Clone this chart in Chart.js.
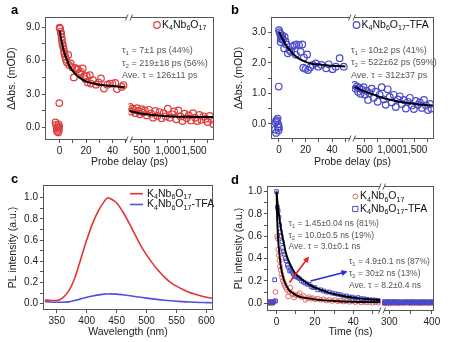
<!DOCTYPE html>
<html>
<head>
<meta charset="utf-8">
<script src="https://cdn.jsdelivr.net/npm/chart.js@4.4.0/dist/chart.umd.min.js"></script>
<style>
  body { margin: 0; background: #fff; }
  #wrap { position: relative; width: 454px; height: 342px; }
  .panel { position: absolute; width: 227px; height: 171px; }
</style>
</head>
<body>
<div id="wrap">
  <div class="panel" style="left:0;top:0"><canvas id="pa" width="227" height="171"></canvas></div>
  <div class="panel" style="left:227px;top:0"><canvas id="pb" width="227" height="171"></canvas></div>
  <div class="panel" style="left:0;top:171px"><canvas id="pc" width="227" height="171"></canvas></div>
  <div class="panel" style="left:227px;top:171px"><canvas id="pd" width="227" height="171"></canvas></div>
</div>
<script>
// ---- panel a : K4Nb6O17 transient absorption (ps, mOD)
const aEarlyT = [-3.1,-2.6,-2.2,-1.9,-1.4,-1.0,-0.8,-0.5,-0.3,-0.2,
  0.0,0.4,0.8,1.2,1.5,1.8,2.2,2.6,3.0,3.4,3.8,4.2,4.8,5.5,6.5,7.2,8.4,9.5,10.8,11.6,
  12.8,13.7,15.0,16.2,17.5,18.5,19.4,20.5,21.3,22.8,23.6,25.2,27.6,29.5,31.2,33.5,36.0,38.0,39.8,42.0,
  43.3,46.8,48.2];
const aEarlyV = [0.48,0.25,-0.1,-0.32,0.05,-0.42,0.3,-0.2,0.1,2.2,
  8.95,8.85,8.6,8.4,8.1,7.8,7.5,7.3,7.1,6.8,6.6,6.35,6.1,5.85,6.5,5.6,5.75,5.4,4.5,5.35,
  5.2,5.25,4.9,5.0,5.3,4.6,4.35,4.6,4.05,4.7,3.95,4.25,3.85,4.05,4.4,3.5,3.85,3.95,3.95,4.0,
  3.45,3.65,3.8];
const aLateT = [280,300,320,350,380,410,440,470,500,530,560,600,640,680,720,760,800,840,880,920,
  960,1000,1040,1080,1120,1160,1200,1240,1280,1320,1360,1400,1440,1480,1520,1560,1600,1640,1680,1720,
  1760,1800,1840,1870];
const aLateV = [1.85,1.45,1.7,1.6,1.3,1.75,1.5,1.2,1.65,1.35,1.55,1.1,1.6,1.25,0.9,1.5,1.05,1.4,0.85,1.3,
  1.0,1.7,0.9,1.2,1.45,0.75,1.55,1.0,0.6,1.25,0.85,1.1,0.65,1.3,0.9,0.6,1.15,0.7,1.0,0.8,
  0.5,1.05,0.7,0.3];
const aFitEarlyT = [0,1,2,3,4,5,6,8,10,12,15,20,25,30,35,40,45,49];
const aFitEarlyV = [8.7,8.05,7.45,6.95,6.55,6.2,5.9,5.4,5.05,4.78,4.48,4.15,3.97,3.86,3.78,3.72,3.67,3.63];
const aFitLateT = [270,350,450,550,700,850,1000,1200,1400,1600,1880];
const aFitLateV = [1.5,1.4,1.3,1.22,1.13,1.07,1.03,0.99,0.97,0.96,0.95];

// ---- panel b : K4Nb6O17-TFA transient absorption
const bEarlyT = [-2.9,-2.6,-2.2,-1.8,-1.4,-1.0,-0.8,-0.5,-0.3,0.0,-0.2,
  0.0,0.5,0.9,1.3,1.6,1.2,2.0,2.5,3.1,3.9,4.3,5.0,5.5,6.7,7.9,9.1,10.3,11.6,12.7,13.2,
  15.1,16.3,17.5,18.3,18.8,20.0,21.2,21.9,23.6,25.5,27.7,29.6,32.0,35.6,37.5,40.4,42.8,45.7,48.8];
const bEarlyV = [-0.19,0.05,-0.3,0.12,0.08,0.17,-0.1,-0.02,-0.22,-0.13,1.22,
  3.07,3.0,2.95,2.88,2.78,2.68,2.82,2.9,2.75,2.47,2.85,2.7,2.6,2.31,2.42,2.36,2.53,2.58,2.26,2.6,
  2.58,2.36,2.6,1.84,2.17,1.8,2.27,1.76,1.85,1.93,1.98,1.87,1.93,1.82,1.95,1.79,1.87,2.15,1.87];
const bLateT = [300,320,345,370,395,420,450,480,510,540,570,600,640,680,720,760,800,840,880,920,
  960,1000,1040,1080,1120,1160,1200,1240,1280,1320,1360,1400,1440,1480,1520,1560,1600,1640,1680,1720,
  1760,1800,1830];
const bLateV = [1.27,1.15,1.22,1.05,1.18,0.98,1.12,1.2,0.95,1.08,0.78,1.0,1.15,0.85,1.05,0.72,0.95,1.2,0.8,0.62,
  1.13,0.88,0.7,0.95,0.55,0.8,0.9,0.65,0.78,0.5,0.72,0.85,0.6,0.48,0.75,0.62,0.7,0.52,0.78,0.6,
  0.45,0.65,0.5];
const bFitEarlyT = [0,2,4,6,8,10,13,16,20,25,30,35,40,45,50];
const bFitEarlyV = [3.02,2.84,2.67,2.53,2.42,2.32,2.2,2.11,2.03,1.97,1.94,1.92,1.9,1.89,1.88];
const bFitLateT = [300,400,500,600,750,900,1050,1200,1400,1600,1850];
const bFitLateV = [1.22,1.13,1.06,1.0,0.91,0.83,0.77,0.72,0.67,0.63,0.6];

// ---- panel c : PL spectra
const cWl = [330,340,350,360,370,380,390,400,410,420,430,435,440,450,460,470,480,490,500,510,
  520,530,540,550,560,570,580,590,600,610];
const cPlain = [0.035,0.03,0.03,0.055,0.12,0.24,0.42,0.6,0.76,0.88,0.97,1.0,0.99,0.95,0.87,0.77,0.66,0.55,0.46,0.38,
  0.31,0.25,0.2,0.165,0.135,0.11,0.09,0.075,0.06,0.05];
const cTfa = [0.02,0.015,0.013,0.013,0.017,0.03,0.045,0.06,0.073,0.083,0.09,0.091,0.092,0.09,0.084,0.077,0.068,0.06,0.052,0.045,
  0.038,0.032,0.027,0.023,0.019,0.016,0.013,0.011,0.01,0.009];

// ---- panel d : PL decay (ns)
const dRedT = [-4.5,-4,-3.5,-3,-2.5,-2,-1.5,-1,-0.6,
  0.3,0.6,0.9,1.2,1.5,1.8,2.1,2.5,2.9,3.3,3.8,4.3,4.8,5.4,6.0,6.6,7.2,7.8,8.5,9.2,
  10,11,12,13,14,15,16,17,18,19,20,21.5,23,24.5,26,27.5,29,30.5,32,33.5,
  35,36.5,38,39.5,41,42.5,44,45.5,47,48.5,50,51.5,53];
const dRedV = [0.01,0.0,0.01,0.0,0.01,0.0,0.01,0.02,0.1,
  0.6,0.58,0.48,0.43,0.38,0.33,0.3,0.26,0.23,0.2,0.18,0.16,0.14,0.12,0.06,0.1,0.14,0.09,0.08,0.05,
  0.07,0.075,0.09,0.055,0.065,0.03,0.045,0.055,0.04,0.045,0.035,0.04,0.03,0.035,0.025,0.03,0.02,0.028,0.018,0.022,
  0.015,0.02,0.012,0.018,0.01,0.015,0.008,0.012,0.006,0.01,0.005,0.008,0.004];
const dBlueT = [-4.5,-4,-3.5,-3,-2.5,-2,-1.5,-1,-0.5,0,
  0.4,0.8,1.2,1.6,2.0,2.4,2.8,3.2,3.6,4.0,4.5,5.0,5.6,6.2,6.8,7.4,8.0,8.7,9.4,10.2,
  11,12,13,14,15,16,17,18,19,20,21.5,23,24.5,26,27.5,29,30.5,32,33.5,35,
  36.5,38,39.5,41,42.5,44,45.5,47,48.5,50,51.5,53];
const dBlueV = [0.01,0.005,0.012,0.008,0.01,0.006,0.012,0.21,0.02,1.0,
  0.86,0.83,0.77,0.7,0.64,0.6,0.55,0.5,0.46,0.44,0.4,0.38,0.34,0.32,0.29,0.3,0.28,0.26,0.24,0.24,
  0.23,0.22,0.2,0.19,0.18,0.17,0.17,0.15,0.14,0.14,0.12,0.12,0.11,0.1,0.1,0.09,0.085,0.08,0.075,0.065,
  0.065,0.055,0.055,0.045,0.05,0.04,0.04,0.035,0.03,0.03,0.028,0.025];
const dRedLateT = [285,288,291,294,297,300,303,306,309,312,315,318,321,324,327,330,333,336,339,342,
  345,348,351,354,357,360,363,366,369,372,375,378,381,384,387,390,393,396,399,402];
const dRedLateV = [0.003,0.008,0.0,0.005,0.01,-0.002,0.006,0.004,0.009,0.001,0.005,0.008,-0.001,0.006,0.003,0.007,0.004,0.0,0.006,0.009,
  0.002,0.005,0.007,0.001,0.004,0.008,0.002,0.006,0.003,0.0,0.007,0.005,0.002,0.008,0.004,0.001,0.006,0.003,0.007,0.002];
const dBlueLateT = [285,286.5,288,289.5,291,292.5,294,295.5,297,298.5,
  300,301.5,303,304.5,306,307.5,309,310.5,312,313.5,315,316.5,318,319.5,321,322.5,324,325.5,327,328.5,
  330,331.5,333,334.5,336,337.5,339,340.5,342,343.5,345,346.5,348,349.5,351,352.5,354,355.5,357,358.5,
  360,361.5,363,364.5,366,367.5,369,370.5,372,373.5,375,376.5,378,379.5,381,382.5,384,385.5,387,388.5,
  390,391.5,393,394.5,396,397.5,399,400.5,402,403.5];
const dBlueLateV = [0.01,0.005,0.012,0.008,0.0,0.01,0.006,0.014,0.004,0.009,
  0.011,0.003,0.008,0.012,0.006,0.01,0.002,0.009,0.013,0.005,0.008,0.011,0.004,0.01,0.007,0.012,0.003,0.009,0.006,0.011,
  0.008,0.004,0.012,0.007,0.01,0.005,0.009,0.013,0.006,0.008,0.005,0.011,0.009,0.002,0.012,0.007,0.01,0.004,0.013,0.006,
  0.009,0.003,0.011,0.008,0.005,0.012,0.007,0.01,0.002,0.009,0.006,0.013,0.004,0.008,0.011,0.005,0.01,0.007,0.003,0.012,
  0.008,0.006,0.01,0.004,0.011,0.009,0.005,0.012,0.007,0.01];
const dRedFitT = [0,0.3,0.7,1.2,2.1,3,3.8,5,6.4,8.5,11.6,16,22,30,40,54];
const dRedFitV = [1.0,0.76,0.6,0.49,0.34,0.26,0.21,0.16,0.12,0.09,0.06,0.045,0.03,0.02,0.013,0.008];
const dBlueFitT = [0,0.5,1.2,2,3,4,4.7,6,8.2,10,13.4,18.6,23,27,32,36,42,48,54];
const dBlueFitV = [1.0,0.9,0.8,0.7,0.6,0.52,0.46,0.39,0.31,0.26,0.21,0.15,0.12,0.095,0.075,0.06,0.045,0.035,0.028];

// ---- tick labels (major) and small ticks (minor)
const aYMajor = [0, 3, 6, 9], aYMinor = [1.5, 4.5, 7.5];
const bYMajor = [0, 1, 2, 3], bYMinor = [0.5, 1.5, 2.5];
const psMajor = [0, 20, 40], psMinor = [10, 30, 50];
const psLateMajor = [500, 1000, 1500], psLateMinor = [750, 1250, 1750];
const cXMajor = [350, 400, 450, 500, 550, 600];
const plMajor = [0, 0.2, 0.4, 0.6, 0.8, 1.0], plMinor = [0.1, 0.3, 0.5, 0.7, 0.9];
const nsMajor = [0, 20, 40], nsMinor = [10, 30, 50];
const nsLateMajor = [300, 400], nsLateMinor = [350];

const FONT = '"Liberation Sans", Arial, Helvetica, sans-serif';
const RED = 'rgb(222,62,62)';
const BLUE = 'rgb(74,74,205)';
const DRED = 'rgb(225,105,105)';
const GREY = '#555';

const pts = (xs, ys) => xs.map((x, i) => ({ x: x, y: ys[i] }));
const f1 = v => v.toFixed(1);
const fInt = v => v.toLocaleString('en-US');

function scale(major, minor, fmt, extra) {
  const all = major.concat(minor).sort((p, q) => p - q);
  return Object.assign({
    type: 'linear',
    grid: { drawOnChartArea: false, color: GREY, tickLength: 3 },
    border: { display: false },
    afterBuildTicks: s => { s.ticks = all.map(v => ({ value: v })); },
    ticks: {
      color: '#222', font: { family: FONT, size: 10 }, padding: 2,
      autoSkip: false, maxRotation: 0,
      callback: v => major.includes(v) ? fmt(v) : ''
    }
  }, extra);
}

function marks(data, x, color, style, r) {
  return {
    data: data, xAxisID: x, yAxisID: 'y',
    pointStyle: style, pointRadius: r, pointBorderWidth: r > 3 ? 1.2 : 1,
    pointBorderColor: color, pointBackgroundColor: 'rgba(0,0,0,0)'
  };
}
function curve(data, x, color, w) {
  return {
    type: 'line', data: data, xAxisID: x, yAxisID: 'y',
    borderColor: color, borderWidth: w, pointRadius: 0, fill: false,
    cubicInterpolationMode: 'monotone'
  };
}

function rich(ctx, str, x, y, size, color) {
  // "_17" marks a subscript run
  const parts = str.split(/(_\d+)/);
  let cx = x;
  ctx.fillStyle = color;
  ctx.textAlign = 'left';
  ctx.textBaseline = 'middle';
  for (const p of parts) {
    if (!p) continue;
    const sub = p[0] === '_';
    const t = sub ? p.slice(1) : p;
    const fs = sub ? size * 0.68 : size;
    ctx.font = fs + 'px ' + FONT;
    ctx.fillText(t, cx, sub ? y + size * 0.3 : y);
    cx += ctx.measureText(t).width;
  }
}

function decor(o) {
  return {
    id: 'decor',
    afterDraw(chart) {
      const ctx = chart.ctx, a = chart.chartArea;
      ctx.save();
      const l = Math.round(a.left) + 0.5, r = Math.round(a.right) - 0.5;
      const t = Math.round(a.top) + 0.5, b = Math.round(a.bottom) - 0.5;
      ctx.strokeStyle = GREY;
      ctx.lineWidth = 1;
      ctx.strokeRect(l, t, r - l, b - t);
      if (o.brk) {
        const bx = Math.round(chart.scales[o.brk].right);
        [t, b].forEach(y => {
          ctx.fillStyle = '#fff';
          ctx.fillRect(bx - 2, y - 1.5, 4, 3);
          ctx.beginPath();
          ctx.moveTo(bx - 3.5, y + 3); ctx.lineTo(bx - 1, y - 3);
          ctx.moveTo(bx + 1, y + 3); ctx.lineTo(bx + 3.5, y - 3);
          ctx.stroke();
        });
      }
      // axis titles
      ctx.fillStyle = '#222';
      ctx.font = '10.5px ' + FONT;
      ctx.textAlign = 'center';
      ctx.textBaseline = 'middle';
      ctx.fillText(o.xTitle, (a.left + a.right) / 2, o.xTitleY);
      ctx.save();
      ctx.translate(o.yTitleX, (a.top + a.bottom) / 2);
      ctx.rotate(-Math.PI / 2);
      ctx.fillText(o.yTitle, 0, 0);
      ctx.restore();
      // panel letter
      ctx.font = 'bold 13px ' + FONT;
      ctx.textAlign = 'left';
      ctx.textBaseline = 'alphabetic';
      ctx.fillStyle = '#000';
      ctx.fillText(o.letter[0], o.letter[1], o.letter[2]);
      // legend
      (o.legend || []).forEach(it => {
        ctx.strokeStyle = it.color;
        ctx.beginPath();
        if (it.kind === 'circle') {
          ctx.lineWidth = it.r > 3 ? 1.2 : 1;
          ctx.arc(it.x, it.y, it.r, 0, Math.PI * 2);
        } else if (it.kind === 'rect') {
          ctx.lineWidth = 1;
          ctx.rect(it.x - it.r, it.y - it.r, it.r * 2, it.r * 2);
        } else {
          ctx.lineWidth = 1.6;
          ctx.moveTo(it.x, it.y); ctx.lineTo(it.x2, it.y);
        }
        ctx.stroke();
        rich(ctx, it.text, it.tx, it.y, it.size, '#111');
      });
      // fit annotations
      (o.notes || []).forEach(n => {
        n.lines.forEach((s, i) => rich(ctx, s, n.x, n.ys[i], n.size, '#555'));
      });
      // arrows
      (o.arrows || []).forEach(ar => {
        const [x0, y0] = ar.from, [x1, y1] = ar.to;
        const ang = Math.atan2(y1 - y0, x1 - x0), hl = 6, hw = 3;
        ctx.strokeStyle = ar.color; ctx.fillStyle = ar.color; ctx.lineWidth = 1.6;
        ctx.beginPath();
        ctx.moveTo(x0, y0);
        ctx.lineTo(x1 - hl * 0.8 * Math.cos(ang), y1 - hl * 0.8 * Math.sin(ang));
        ctx.stroke();
        ctx.beginPath();
        ctx.moveTo(x1, y1);
        ctx.lineTo(x1 - hl * Math.cos(ang) + hw * Math.sin(ang), y1 - hl * Math.sin(ang) - hw * Math.cos(ang));
        ctx.lineTo(x1 - hl * Math.cos(ang) - hw * Math.sin(ang), y1 - hl * Math.sin(ang) + hw * Math.cos(ang));
        ctx.closePath();
        ctx.fill();
      });
      ctx.restore();
    }
  };
}

function panel(id, datasets, scales, pad, deco) {
  return new Chart(document.getElementById(id), {
    type: 'scatter',
    data: { datasets: datasets },
    options: {
      responsive: false,
      animation: false,
      events: [],
      layout: { padding: pad },
      plugins: { legend: { display: false }, tooltip: { enabled: false } },
      scales: scales
    },
    plugins: [decor(deco)]
  });
}

// a
panel('pa', [
  curve(pts(aFitEarlyT, aFitEarlyV), 'x1', '#000', 2),
  curve(pts(aFitLateT, aFitLateV), 'x2', '#000', 2),
  marks(pts(aEarlyT, aEarlyV), 'x1', RED, 'circle', 3.3),
  marks(pts(aLateT, aLateV), 'x2', RED, 'circle', 3.3)
], {
  x1: scale(psMajor, psMinor, fInt, { position: 'bottom', stack: 'bx', stackWeight: 84, min: -11, max: 52, afterFit: s => { s.height = 31; } }),
  x2: scale(psLateMajor, psLateMinor, fInt, { position: 'bottom', stack: 'bx', stackWeight: 86, min: 250, max: 1880, afterFit: s => { s.height = 31; } }),
  y: scale(aYMajor, aYMinor, f1, { position: 'left', min: -1.1, max: 9.9, afterFit: s => { s.width = 45; } })
}, { top: 17, right: 13, left: 0, bottom: 0 }, {
  brk: 'x1', xTitle: 'Probe delay (ps)', xTitleY: 162, yTitle: 'ΔAbs. (mOD)', yTitleX: 12.5,
  letter: ['a', 11, 14],
  legend: [{ kind: 'circle', color: RED, r: 3.3, x: 157, y: 25, tx: 162, size: 10.5, text: 'K_4Nb_6O_17' }],
  notes: [{ x: 122, ys: [51, 63.5, 76], size: 9,
    lines: ['τ_1 = 7±1 ps (44%)', 'τ_2 = 219±18 ps (56%)', 'Ave. τ = 126±11 ps'] }]
});

// b
panel('pb', [
  curve(pts(bFitEarlyT, bFitEarlyV), 'x1', '#000', 2),
  curve(pts(bFitLateT, bFitLateV), 'x2', '#000', 2),
  marks(pts(bEarlyT, bEarlyV), 'x1', BLUE, 'circle', 3.3),
  marks(pts(bLateT, bLateV), 'x2', BLUE, 'circle', 3.3)
], {
  x1: scale(psMajor, psMinor, fInt, { position: 'bottom', stack: 'bx', stackWeight: 81, min: -6, max: 55, afterFit: s => { s.height = 32; } }),
  x2: scale(psLateMajor, psLateMinor, fInt, { position: 'bottom', stack: 'bx', stackWeight: 82, min: 250, max: 1880, afterFit: s => { s.height = 32; } }),
  y: scale(bYMajor, bYMinor, f1, { position: 'left', min: -0.5, max: 3.5, afterFit: s => { s.width = 44; } })
}, { top: 17, right: 20, left: 0, bottom: 0 }, {
  brk: 'x1', xTitle: 'Probe delay (ps)', xTitleY: 162, yTitle: 'ΔAbs. (mOD)', yTitleX: 11.7,
  letter: ['b', 4, 14],
  legend: [{ kind: 'circle', color: BLUE, r: 3.3, x: 129.5, y: 25, tx: 134.5, size: 10.5, text: 'K_4Nb_6O_17-TFA' }],
  notes: [{ x: 124, ys: [50.5, 63, 75.5], size: 9,
    lines: ['τ_1 = 10±2 ps (41%)', 'τ_2 = 522±62 ps (59%)', 'Ave. τ = 312±37 ps'] }]
});

// c
panel('pc', [
  curve(pts(cWl, cPlain), 'x', 'rgb(226,52,52)', 1.6),
  curve(pts(cWl, cTfa), 'x', 'rgb(80,80,225)', 1.6)
], {
  x: scale(cXMajor, [], fInt, { position: 'bottom', min: 327, max: 611, afterFit: s => { s.height = 32; } }),
  y: scale(plMajor, plMinor, f1, { position: 'left', min: -0.06, max: 1.12, afterFit: s => { s.width = 43; } })
}, { top: 14, right: 14, left: 0, bottom: 0 }, {
  xTitle: 'Wavelength (nm)', xTitleY: 161.5, yTitle: 'PL intensity (a.u.)', yTitleX: 13,
  letter: ['c', 11, 12],
  legend: [
    { kind: 'line', color: 'rgb(226,52,52)', x: 130, x2: 143, y: 22.7, tx: 147, size: 10.5, text: 'K_4Nb_6O_17' },
    { kind: 'line', color: 'rgb(80,80,225)', x: 130, x2: 143, y: 33.5, tx: 147, size: 10.5, text: 'K_4Nb_6O_17-TFA' }
  ]
});

// d
panel('pd', [
  curve(pts(dBlueFitT, dBlueFitV), 'x1', '#000', 1.9),
  curve(pts(dRedFitT, dRedFitV), 'x1', '#000', 1.9),
  marks(pts(dBlueT, dBlueV), 'x1', BLUE, 'rect', 2.6),
  marks(pts(dBlueLateT, dBlueLateV), 'x2', BLUE, 'rect', 2.6),
  marks(pts(dRedT, dRedV), 'x1', DRED, 'circle', 2.4),
  marks(pts(dRedLateT, dRedLateV), 'x2', DRED, 'circle', 2.4)
], {
  x1: scale(nsMajor, nsMinor, fInt, { position: 'bottom', stack: 'bx', stackWeight: 115, min: -5, max: 55, afterFit: s => { s.height = 31; } }),
  x2: scale(nsLateMajor, nsLateMinor, fInt, { position: 'bottom', stack: 'bx', stackWeight: 52, min: 283, max: 405, afterFit: s => { s.height = 31; } }),
  y: scale(plMajor, plMinor, f1, { position: 'left', min: -0.07, max: 1.05, afterFit: s => { s.width = 40; } })
}, { top: 15, right: 20, left: 0, bottom: 0 }, {
  brk: 'x1', xTitle: 'Time (ns)', xTitleY: 161, yTitle: 'PL intensity (a.u.)', yTitleX: 11.7,
  letter: ['d', 4, 13],
  legend: [
    { kind: 'circle', color: DRED, r: 2.4, x: 128.3, y: 25.5, tx: 133, size: 10.5, text: 'K_4Nb_6O_17' },
    { kind: 'rect', color: BLUE, r: 2.6, x: 128.3, y: 38, tx: 133, size: 10.5, text: 'K_4Nb_6O_17-TFA' }
  ],
  notes: [
    { x: 61.5, ys: [53, 64.5, 76], size: 8.5,
      lines: ['τ_1 = 1.45±0.04 ns (81%)', 'τ_2 = 10.0±0.5 ns (19%)', 'Ave. τ = 3.0±0.1 ns'] },
    { x: 122, ys: [91, 103, 115], size: 8.5,
      lines: ['τ_1 = 4.9±0.1 ns (87%)', 'τ_2 = 30±2 ns (13%)', 'Ave. τ = 8.2±0.4 ns'] }
  ],
  arrows: [
    { from: [62.5, 111.5], to: [82, 85.5], color: 'rgb(235,30,30)' },
    { from: [83.5, 110], to: [120.5, 100.5], color: 'rgb(40,40,230)' }
  ]
});
</script>
</body>
</html>
